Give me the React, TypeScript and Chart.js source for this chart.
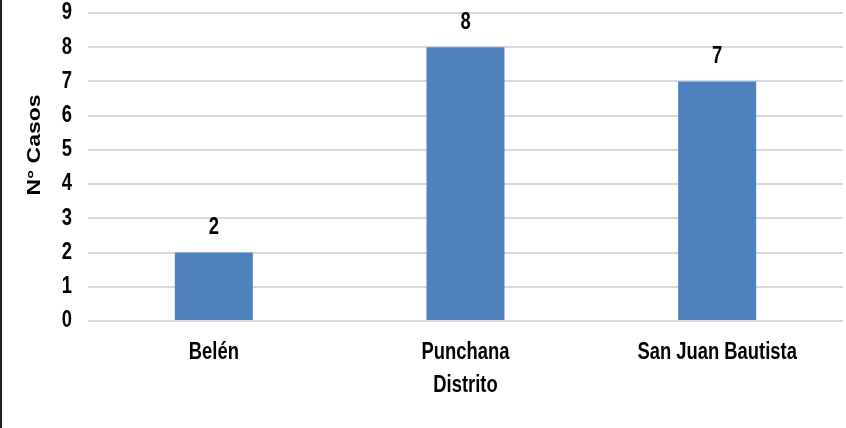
import { useEffect, useRef } from "react";
import { Chart, registerables } from "chart.js";

Chart.register(...registerables);

const categories = ["Belén", "Punchana", "San Juan Bautista"];
const casos = [2, 8, 7];
const yMin = 0;
const yMax = 9;
const yStep = 1;
const xTitle = "Distrito";
const yTitle = "N° Casos";

const FONT = "'Liberation Sans', Arial, sans-serif";
const SQUEEZE = 0.8;

function squeezedText(ctx: any, text: string, x: number, y: number, align: string) {
  ctx.save();
  ctx.translate(x, y);
  ctx.scale(SQUEEZE, 1);
  ctx.textAlign = align;
  ctx.fillText(text, 0, 0);
  ctx.restore();
}

const labelsPlugin = {
  id: "customLabels",
  afterDatasetsDraw(chart: any) {
    const ctx = chart.ctx;
    const meta = chart.getDatasetMeta(0);
    ctx.save();
    ctx.font = `bold 23px ${FONT}`;
    ctx.fillStyle = "#000";
    ctx.textBaseline = "middle";
    meta.data.forEach((el: any, i: number) => {
      squeezedText(ctx, String(casos[i]), el.x, el.y - 25, "center");
    });
    ctx.restore();
  },
  afterDraw(chart: any) {
    const ctx = chart.ctx;
    const area = chart.chartArea;
    const xs = chart.scales.x;
    const ys = chart.scales.y;
    ctx.save();
    ctx.fillStyle = "#000";
    ctx.textBaseline = "middle";
    ctx.font = `bold 23px ${FONT}`;
    for (let v = yMin; v <= yMax; v += yStep) {
      squeezedText(ctx, String(v), 72, ys.getPixelForValue(v), "right");
    }
    categories.forEach((c, i) => {
      squeezedText(ctx, c, xs.getPixelForValue(i), 353, "center");
    });
    squeezedText(ctx, xTitle, (area.left + area.right) / 2, 386, "center");
    ctx.translate(35, 145);
    ctx.scale(SQUEEZE, 1);
    ctx.rotate(-Math.PI / 2);
    ctx.textAlign = "center";
    ctx.font = `bold 23px ${FONT}`;
    ctx.fillText(yTitle, 0, 0);
    ctx.restore();
  },
};

export default function App() {
  const ref = useRef<HTMLCanvasElement | null>(null);

  useEffect(() => {
    document.body.style.margin = "0";
    const canvas = ref.current;
    if (!canvas) return;
    const chart = new Chart(canvas, {
      type: "bar",
      data: {
        labels: categories,
        datasets: [
          {
            data: casos,
            backgroundColor: "#4f81bd",
            borderWidth: 0,
            barPercentage: 0.62,
            categoryPercentage: 0.5,
          },
        ],
      },
      options: {
        animation: false,
        responsive: false,
        maintainAspectRatio: false,
        layout: { padding: { left: 0, right: 3, top: 13, bottom: 0 } },
        plugins: {
          legend: { display: false },
          tooltip: { enabled: false },
        },
        scales: {
          x: {
            grid: { display: false, drawTicks: false },
            border: { display: false },
            ticks: { display: false },
            afterFit(scale: any) {
              scale.height = 107;
            },
          },
          y: {
            min: yMin,
            max: yMax,
            grid: { color: "#d9d9d9", lineWidth: 2, drawTicks: false },
            border: { display: false },
            ticks: { stepSize: yStep, display: false },
            afterFit(scale: any) {
              scale.width = 88;
            },
          },
        },
      },
      plugins: [labelsPlugin],
    });
    return () => chart.destroy();
  }, []);

  return (
    <div style={{ position: "absolute", left: 0, top: 0, width: 846, height: 428, background: "#fff" }}>
      <canvas ref={ref} width={846} height={428} style={{ width: 846, height: 428, display: "block" }} />
      <div style={{ position: "absolute", left: 0, top: 0, width: 2, height: 428, background: "#222" }} />
    </div>
  );
}
